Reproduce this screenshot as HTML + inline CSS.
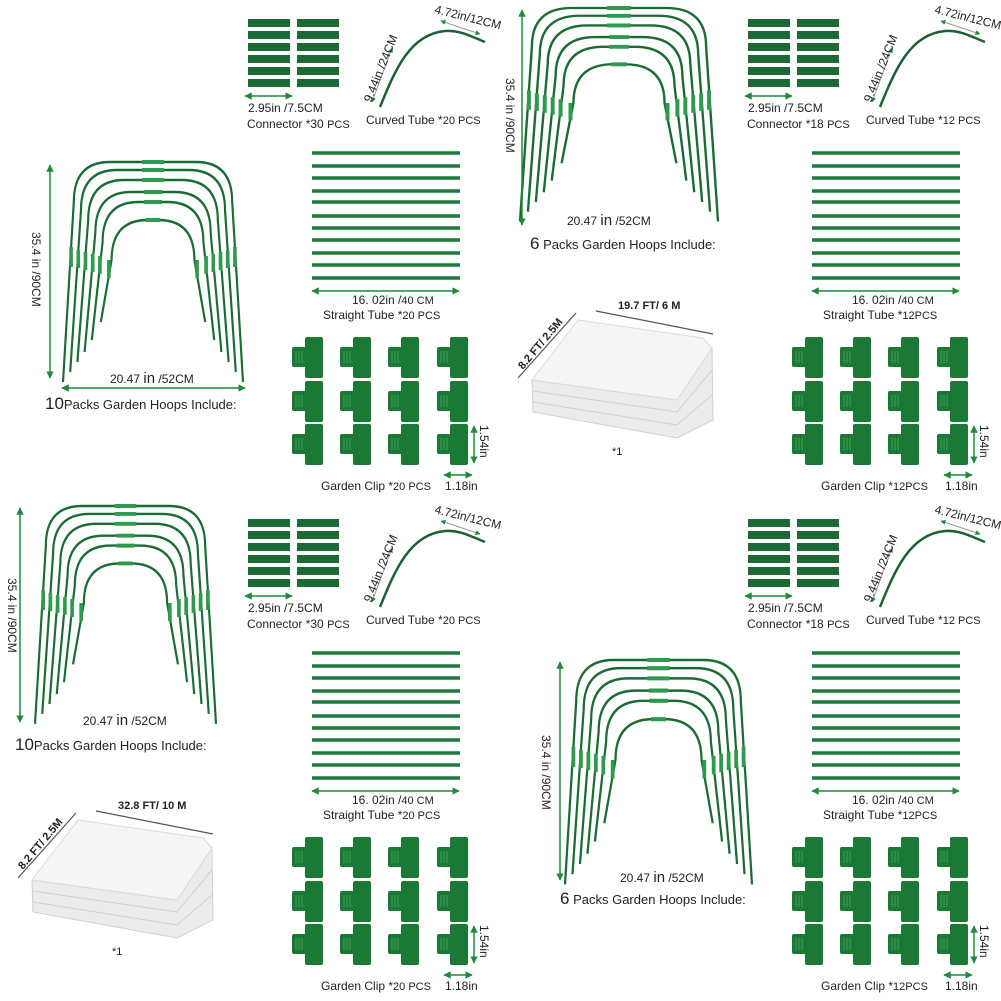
<!DOCTYPE html>
<html><head><meta charset="utf-8"><style>
html,body{margin:0;padding:0;background:#fff}
svg{display:block}
text{font-family:"Liberation Sans",sans-serif;fill:#222}
</style></head><body>
<svg width="1001" height="1001" viewBox="0 0 1001 1001" xmlns="http://www.w3.org/2000/svg">
<defs>
<marker id="ah" viewBox="0 0 10 10" refX="9" refY="5" markerWidth="5" markerHeight="5" orient="auto-start-reverse"><path d="M0,0L10,5L0,10z" fill="#1f8a3a"/></marker>
<g id="hoop" fill="none" stroke="#1c6b35" stroke-width="2.4">
<path d="M0,220 L12,40 Q12,0 52,0 L148,0 Q188,0 188,40 L200,220"/>
<path d="M8,210 L20,48 Q20,8 60,8 L140,8 Q180,8 180,48 L192,210"/>
<path d="M16,200 L28,58 Q28,18 68,18 L132,18 Q172,18 172,58 L184,200"/>
<path d="M24,190 L36,70 Q36,30 76,30 L124,30 Q164,30 164,70 L176,190"/>
<path d="M32,178 L44,80 Q44,40 84,40 L116,40 Q156,40 156,80 L168,178"/>
<path d="M42,160 L54,98 Q54,58 94,58 L106,58 Q146,58 146,98 L158,160"/>
<g stroke="#2e9a4c" stroke-width="4">
<path d="M9,85V105M17,88V106M25,90V108M33,92V110M41,94V112M51,98V116"/>
<path d="M191,85V105M183,88V106M175,90V108M167,92V110M159,94V112M149,98V116"/>
<path d="M88,0H112M88,8H112M88,18H112M90,30H110M90,40H110M92,58H108"/>
</g>
</g>
<g id="tubes" stroke="#1e7a3c" stroke-width="3.5">
<path d="M312,153H460M312,166H460M312,178H460M312,191H460M312,202H460M312,216H460M312,228H460M312,240H460M312,253H460M312,265H460M312,278H460"/>
<path d="M312,291H459" stroke="#1f8a3a" stroke-width="1.5" marker-start="url(#ah)" marker-end="url(#ah)"/>
</g>
<g id="conn" fill="#1d6a37">
<rect x="248" y="19" width="42" height="8"/><rect x="297" y="19" width="42" height="8"/>
<rect x="248" y="31" width="42" height="8"/><rect x="297" y="31" width="42" height="8"/>
<rect x="248" y="43" width="42" height="8"/><rect x="297" y="43" width="42" height="8"/>
<rect x="248" y="55" width="42" height="8"/><rect x="297" y="55" width="42" height="8"/>
<rect x="248" y="67" width="42" height="8"/><rect x="297" y="67" width="42" height="8"/>
<rect x="248" y="79" width="42" height="8"/><rect x="297" y="79" width="42" height="8"/>
<path d="M245,96H292" stroke="#1f8a3a" stroke-width="1.5" marker-start="url(#ah)" marker-end="url(#ah)"/>
</g>
<g id="curve">
<path d="M380,107 C395,70 410,34 445,31 C460,30 470,36 485,42" fill="none" stroke="#1c6035" stroke-width="2.5"/>
<path d="M372,102 L392,48" stroke="#999" stroke-width="1" marker-start="url(#ah)" marker-end="url(#ah)"/>
<path d="M441,21 L480,34" stroke="#999" stroke-width="1" marker-start="url(#ah)" marker-end="url(#ah)"/>
</g>
<g id="clip" fill="#1a7a35">
<rect x="13" y="0" width="18" height="41" rx="2"/>
<rect x="0" y="10" width="18" height="20" rx="2"/>
<path d="M4,14V26M7,14V26M10,14V26" stroke="#4aa862" stroke-width="0.8"/>
</g>
<g id="clips">
<use href="#clip" x="292" y="337"/><use href="#clip" x="340" y="337"/><use href="#clip" x="388" y="337"/><use href="#clip" x="437" y="337"/>
<use href="#clip" x="292" y="381"/><use href="#clip" x="340" y="381"/><use href="#clip" x="388" y="381"/><use href="#clip" x="437" y="381"/>
<use href="#clip" x="292" y="424"/><use href="#clip" x="340" y="424"/><use href="#clip" x="388" y="424"/><use href="#clip" x="437" y="424"/>
<path d="M474,426V463" stroke="#1f8a3a" stroke-width="1.5" marker-start="url(#ah)" marker-end="url(#ah)"/>
<path d="M444,475H472" stroke="#1f8a3a" stroke-width="1.5" marker-start="url(#ah)" marker-end="url(#ah)"/>
</g>
<g id="parts"><use href="#tubes"/><use href="#conn"/><use href="#curve"/><use href="#clips"/></g>
<g id="film">
<path d="M532,380 L677,400 L712,348 L713,420 L677,438 L533,412 Z" fill="#ececec" stroke="#d0d0d0"/>
<path d="M533,391 L677,412 L712,370 M533,402 L677,425 L712,395" fill="none" stroke="#d0d0d0"/>
<path d="M578,320 L703,338 L712,348 L677,400 L532,380 Z" fill="#f5f5f5" stroke="#dadada"/>
<path d="M596,311 L713,334" stroke="#555" stroke-width="1.2"/>
<path d="M518,378 L576,313" stroke="#555" stroke-width="1.2"/>
</g>
</defs>

<use href="#parts"/>
<use href="#parts" x="500" y="0"/>
<use href="#parts" x="0" y="500"/>
<use href="#parts" x="500" y="500"/>

<use href="#hoop" transform="translate(63,162) scale(0.9,1.0)"/>
<use href="#hoop" transform="translate(520,8) scale(0.99,0.97)"/>
<use href="#hoop" transform="translate(35,506) scale(0.905,0.99)"/>
<use href="#hoop" transform="translate(565,660) scale(0.935,1.02)"/>

<g stroke="#1f8a3a" stroke-width="1.5">
<path d="M50,165V378" marker-start="url(#ah)" marker-end="url(#ah)"/>
<path d="M62,388H245" marker-start="url(#ah)" marker-end="url(#ah)"/>
<path d="M522,10V225" marker-start="url(#ah)" marker-end="url(#ah)"/>
<path d="M20,508V722" marker-start="url(#ah)" marker-end="url(#ah)"/>
<path d="M560,662V880" marker-start="url(#ah)" marker-end="url(#ah)"/>
</g>

<use href="#film"/>
<use href="#film" x="-500" y="500"/>

<g font-size="12">
<text transform="translate(32,232) rotate(90)">35.4 in /90CM</text>
<text x="110" y="383">20.47 <tspan font-size="15">in</tspan> /52CM</text>
<text x="45" y="409" font-size="13"><tspan font-size="17">10</tspan>Packs Garden Hoops Include:</text>

<text transform="translate(506,78) rotate(90)">35.4 in /90CM</text>
<text x="567" y="225">20.47 <tspan font-size="15">in</tspan> /52CM</text>
<text x="530" y="249" font-size="13"><tspan font-size="17">6</tspan> Packs Garden Hoops Include:</text>

<text transform="translate(8,578) rotate(90)">35.4 in /90CM</text>
<text x="83" y="725">20.47 <tspan font-size="15">in</tspan> /52CM</text>
<text x="15" y="750" font-size="13"><tspan font-size="17">10</tspan>Packs Garden Hoops Include:</text>

<text transform="translate(542,735) rotate(90)">35.4 in /90CM</text>
<text x="620" y="882">20.47 <tspan font-size="15">in</tspan> /52CM</text>
<text x="560" y="904" font-size="13"><tspan font-size="17">6</tspan> Packs Garden Hoops Include:</text>

<text x="248" y="112">2.95in /7.5CM</text>
<text x="247" y="128">Connector *30 <tspan font-size="11">PCS</tspan></text>
<text x="366" y="124">Curved Tube *<tspan font-size="11">20 PCS</tspan></text>
<text transform="translate(371,103) rotate(-68)">9.44in /24CM</text>
<text transform="translate(434,13) rotate(14)">4.72in/12CM</text>
<text x="352" y="304">16. 02in /<tspan font-size="11">40 CM</tspan></text>
<text x="323" y="319">Straight Tube *<tspan font-size="11">20 PCS</tspan></text>
<text x="321" y="490">Garden Clip *<tspan font-size="11">20 PCS</tspan></text>
<text x="445" y="490">1.18in</text>
<text transform="translate(480,425) rotate(90)">1.54in</text>

<text x="748" y="112">2.95in /7.5CM</text>
<text x="747" y="128">Connector *18 <tspan font-size="11">PCS</tspan></text>
<text x="866" y="124">Curved Tube *<tspan font-size="11">12 PCS</tspan></text>
<text transform="translate(871,103) rotate(-68)">9.44in /24CM</text>
<text transform="translate(934,13) rotate(14)">4.72in/12CM</text>
<text x="852" y="304">16. 02in /<tspan font-size="11">40 CM</tspan></text>
<text x="823" y="319">Straight Tube *<tspan font-size="11">12PCS</tspan></text>
<text x="821" y="490">Garden Clip *<tspan font-size="11">12PCS</tspan></text>
<text x="945" y="490">1.18in</text>
<text transform="translate(980,425) rotate(90)">1.54in</text>

<text x="248" y="612">2.95in /7.5CM</text>
<text x="247" y="628">Connector *30 <tspan font-size="11">PCS</tspan></text>
<text x="366" y="624">Curved Tube *<tspan font-size="11">20 PCS</tspan></text>
<text transform="translate(371,603) rotate(-68)">9.44in /24CM</text>
<text transform="translate(434,513) rotate(14)">4.72in/12CM</text>
<text x="352" y="804">16. 02in /<tspan font-size="11">40 CM</tspan></text>
<text x="323" y="819">Straight Tube *<tspan font-size="11">20 PCS</tspan></text>
<text x="321" y="990">Garden Clip *<tspan font-size="11">20 PCS</tspan></text>
<text x="445" y="990">1.18in</text>
<text transform="translate(480,925) rotate(90)">1.54in</text>

<text x="748" y="612">2.95in /7.5CM</text>
<text x="747" y="628">Connector *18 <tspan font-size="11">PCS</tspan></text>
<text x="866" y="624">Curved Tube *<tspan font-size="11">12 PCS</tspan></text>
<text transform="translate(871,603) rotate(-68)">9.44in /24CM</text>
<text transform="translate(934,513) rotate(14)">4.72in/12CM</text>
<text x="852" y="804">16. 02in /<tspan font-size="11">40 CM</tspan></text>
<text x="823" y="819">Straight Tube *<tspan font-size="11">12PCS</tspan></text>
<text x="821" y="990">Garden Clip *<tspan font-size="11">12PCS</tspan></text>
<text x="945" y="990">1.18in</text>
<text transform="translate(980,925) rotate(90)">1.54in</text>
</g>

<g font-size="11" font-weight="bold">
<text x="618" y="309">19.7 FT/ 6 M</text>
<text transform="translate(523,370) rotate(-50)">8.2 FT/ 2.5M</text>
<text x="118" y="809">32.8 FT/ 10 M</text>
<text transform="translate(23,870) rotate(-50)">8.2 FT/ 2.5M</text>
</g>
<text x="612" y="455" font-size="11">*1</text>
<text x="112" y="955" font-size="11">*1</text>
</svg>
</body></html>
